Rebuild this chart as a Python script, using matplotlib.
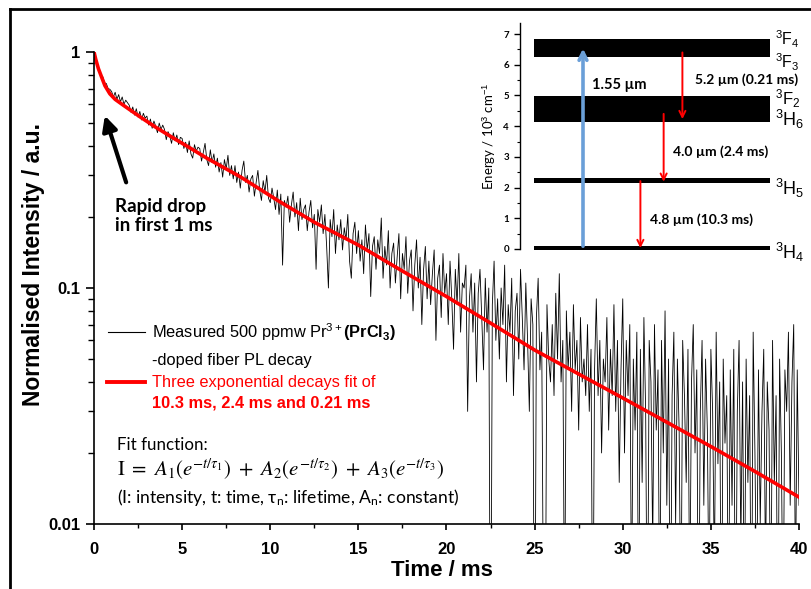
import numpy as np
import matplotlib
matplotlib.use("Agg")
import matplotlib.pyplot as plt
from matplotlib.lines import Line2D
from matplotlib.patches import FancyArrowPatch
from matplotlib.ticker import FixedLocator, NullFormatter, MultipleLocator

plt.rcParams['font.family'] = ['Liberation Sans', 'DejaVu Sans']
plt.rcParams['mathtext.fontset'] = 'custom'
plt.rcParams['mathtext.rm'] = 'Liberation Sans'
plt.rcParams['mathtext.it'] = 'Liberation Sans:italic'
plt.rcParams['mathtext.bf'] = 'Liberation Sans:bold'

W, H = 812, 589

# measured PL decay, one value every 0.1 ms
dt = 0.1
meas = [
    1.0, 0.94, 0.87, 0.845, 0.79, 0.785, 0.74, 0.735, 0.70, 0.695,
    0.68, 0.645, 0.675, 0.63, 0.66, 0.615, 0.645, 0.60, 0.625, 0.61,
    0.595, 0.555, 0.585, 0.54, 0.575, 0.53, 0.56, 0.515, 0.55, 0.525,
    0.535, 0.49, 0.52, 0.475, 0.51, 0.485, 0.455, 0.50, 0.47, 0.49,
    0.47, 0.425, 0.46, 0.44, 0.41, 0.455, 0.42, 0.445, 0.405, 0.435,
    0.43, 0.39, 0.415, 0.375, 0.42, 0.37, 0.355, 0.405, 0.38, 0.395,
    0.39, 0.345, 0.375, 0.41, 0.35, 0.33, 0.385, 0.34, 0.37, 0.325,
    0.355, 0.31, 0.34, 0.295, 0.35, 0.32, 0.365, 0.30, 0.33, 0.29,
    0.33, 0.28, 0.31, 0.265, 0.315, 0.345, 0.28, 0.30, 0.255, 0.29,
    0.30, 0.245, 0.28, 0.315, 0.26, 0.235, 0.285, 0.255, 0.30, 0.24,
    0.23, 0.265, 0.24, 0.215, 0.26, 0.205, 0.25, 0.125, 0.235, 0.22,
    0.245, 0.19, 0.225, 0.255, 0.20, 0.23, 0.175, 0.24, 0.195, 0.215,
    0.225, 0.175, 0.21, 0.235, 0.18, 0.205, 0.12, 0.215, 0.19, 0.225,
    0.17, 0.205, 0.15, 0.10, 0.195, 0.165, 0.215, 0.14, 0.185, 0.16,
    0.195, 0.145, 0.18, 0.16, 0.205, 0.13, 0.11, 0.17, 0.19, 0.14,
    0.175, 0.13, 0.16, 0.115, 0.185, 0.145, 0.17, 0.092, 0.15, 0.165,
    0.12, 0.16, 0.14, 0.198, 0.11, 0.15, 0.125, 0.175, 0.10, 0.14,
    0.155, 0.105, 0.135, 0.17, 0.09, 0.14, 0.12, 0.165, 0.095, 0.13,
    0.145, 0.08, 0.125, 0.16, 0.10, 0.135, 0.07, 0.12, 0.15, 0.09,
    0.13, 0.085, 0.115, 0.145, 0.06, 0.11, 0.125, 0.075, 0.14, 0.095,
    0.115, 0.07, 0.13, 0.09, 0.055, 0.12, 0.085, 0.14, 0.065, 0.105,
    0.10, 0.125, 0.03, 0.09, 0.115, 0.065, 0.105, 0.04, 0.095, 0.12,
    0.075, 0.045, 0.11, 0.065, 0.10, 0.001, 0.085, 0.13, 0.06, 0.09,
    0.05, 0.10, 0.07, 0.125, 0.04, 0.085, 0.065, 0.11, 0.035, 0.08,
    0.095, 0.05, 0.12, 0.075, 0.045, 0.105, 0.06, 0.03, 0.09, 0.07,
    0.001, 0.075, 0.11, 0.045, 0.065, 0.004, 0.002, 0.085, 0.05, 0.04,
    0.07, 0.035, 0.095, 0.05, 0.115, 0.04, 0.06, 0.003, 0.08, 0.045,
    0.065, 0.03, 0.085, 0.045, 0.06, 0.025, 0.075, 0.04, 0.05, 0.035,
    0.07, 0.03, 0.055, 0.002, 0.045, 0.09, 0.035, 0.06, 0.02, 0.05,
    0.04, 0.075, 0.025, 0.055, 0.035, 0.085, 0.03, 0.06, 0.015, 0.045,
    0.09, 0.02, 0.06, 0.035, 0.07, 0.004, 0.05, 0.025, 0.065, 0.003,
    0.055, 0.015, 0.075, 0.03, 0.002, 0.06, 0.04, 0.008, 0.07, 0.025,
    0.045, 0.003, 0.06, 0.02, 0.08, 0.012, 0.05, 0.002, 0.035, 0.065,
    0.01, 0.05, 0.025, 0.003, 0.06, 0.035, 0.015, 0.055, 0.004, 0.04,
    0.07, 0.02, 0.045, 0.002, 0.03, 0.06, 0.012, 0.05, 0.025, 0.004,
    0.055, 0.03, 0.006, 0.065, 0.018, 0.04, 0.002, 0.05, 0.022, 0.035,
    0.003, 0.045, 0.012, 0.055, 0.002, 0.03, 0.06, 0.008, 0.04, 0.003,
    0.05, 0.015, 0.035, 0.002, 0.065, 0.02, 0.004, 0.045, 0.01, 0.03,
    0.055, 0.006, 0.04, 0.025, 0.003, 0.06, 0.015, 0.035, 0.002, 0.05,
    0.02, 0.003, 0.045, 0.03, 0.065, 0.012, 0.04, 0.07, 0.005, 0.045,
    0.012,
]

# three exponential fit curve
fit_t = [0, 0.1, 0.25, 0.44, 0.62, 0.9, 1.2, 1.65, 2.6, 3.5, 4.5, 5.5, 6.4, 8.3,
         10.5, 12.5, 15, 17.5, 20, 22.5, 25, 27.5, 30, 32.5, 35, 37.5, 40]
fit_y = [1.0, 0.93, 0.85, 0.78, 0.72, 0.665, 0.63, 0.596, 0.532, 0.48, 0.432, 0.39,
         0.355, 0.296, 0.233, 0.19, 0.152, 0.118, 0.092, 0.071, 0.0546, 0.0432,
         0.0342, 0.027, 0.0213, 0.0167, 0.013]

# energy level diagram (10^3 cm-1)
level_lo = [6.26, 4.13, 2.15, -0.03]
level_hi = [6.84, 4.99, 2.31, 0.10]
level_names = [r"$^3$F$_4$", r"$^3$F$_3$", r"$^3$F$_2$", r"$^3$H$_6$", r"$^3$H$_5$", r"$^3$H$_4$"]
level_name_y = [6.82, 6.08, 4.9, 4.22, 1.98, -0.12]
level_name_size = [11.5, 11.5, 12, 13, 13, 13]
pump = (0.225, 0.0, 6.62)
decays = [(0.58, 6.4, 4.23), (0.513, 4.4, 2.19), (0.43, 2.21, 0.03)]
decay_labels = ["5.2 µm (0.21 ms)", "4.0 µm (2.4 ms)", "4.8 µm (10.3 ms)"]
decay_label_pos = [(0.625, 5.5), (0.546, 3.16), (0.464, 0.94)]


def fx(px):
    return px / W


def fy(py):
    return 1 - py / H


fig = plt.figure(figsize=(W / 100, H / 100), dpi=100)

ax = fig.add_axes([fx(94), fy(524), (799 - 94) / W, (524 - 52) / H])
t = np.arange(len(meas)) * dt
ax.plot(t, meas, color='black', lw=0.6)
ax.plot(fit_t, fit_y, color='red', lw=2.6)
ax.set_yscale('log')
ax.set_xlim(0, 40)
ax.set_ylim(0.01, 1)
for s in ['top', 'right']:
    ax.spines[s].set_visible(False)
for s in ['left', 'bottom']:
    ax.spines[s].set_linewidth(1.2)
ax.xaxis.set_major_locator(MultipleLocator(5))
ax.xaxis.set_minor_locator(MultipleLocator(2.5))
ax.yaxis.set_major_locator(FixedLocator([0.01, 0.1, 1]))
ax.set_yticklabels(["0.01", "0.1", "1"])
ax.yaxis.set_minor_formatter(NullFormatter())
ax.tick_params(axis='y', which='major', direction='out', length=6, width=1.2, pad=4,
               labelsize=12)
ax.tick_params(axis='y', which='minor', direction='out', length=4, width=1.0)
ax.tick_params(axis='x', which='major', direction='out', length=4, width=1.2, pad=9,
               labelsize=12)
ax.tick_params(axis='x', which='minor', direction='out', length=3, width=1.0)
for lab in ax.get_xticklabels() + ax.get_yticklabels():
    lab.set_fontweight('bold')

fig.text(fx(442), fy(570), "Time / ms", fontsize=16, fontweight='bold', ha='center', va='center')
fig.text(fx(34), fy(265), "Normalised Intensity / a.u.", fontsize=16.5, fontweight='bold',
         rotation=90, ha='center', va='center')

# rapid drop annotation
fig.add_artist(FancyArrowPatch((fx(127), fy(185)), (fx(104), fy(113)), transform=fig.transFigure,
                               arrowstyle='-|>', mutation_scale=22, lw=3, color='black'))
fig.text(fx(115), fy(216), "Rapid drop\nin first 1 ms", family=['Lato', 'DejaVu Sans'],
         fontsize=13.5, fontweight='bold', ha='left', va='center', linespacing=1.2)

# legend
fig.add_artist(Line2D([fx(108), fx(145)], [fy(332), fy(332)], color='black', lw=0.8))
fig.text(fx(152), fy(332), r"Measured 500 ppmw Pr$^{3+}$$\mathbf{(PrCl_3)}$", fontsize=11.8,
         ha='left', va='center')
fig.text(fx(152), fy(360), "-doped fiber PL decay", fontsize=11.8, ha='left', va='center')
fig.add_artist(Line2D([fx(107), fx(145)], [fy(382), fy(382)], color='red', lw=2.8))
fig.text(fx(152), fy(382), "Three exponential decays fit of", fontsize=11.8, color='red',
         ha='left', va='center')
fig.text(fx(152), fy(403), "10.3 ms, 2.4 ms and 0.21 ms", fontsize=11.8, color='red',
         fontweight='bold', ha='left', va='center')

# fit function
fig.text(fx(117), fy(445), "Fit function:", family=['Lato', 'DejaVu Sans'], fontsize=12.2,
         ha='left', va='center')
fig.text(fx(117), fy(469),
         r"$\mathrm{I}\ =\ A_1(e^{-t/\tau_1})\ +\ A_2(e^{-t/\tau_2})\ +\ A_3(e^{-t/\tau_3})$",
         math_fontfamily='stix', fontsize=15, ha='left', va='center')
fig.text(fx(117), fy(497), r"(I: intensity, t: time, τ$_\mathregular{n}$: lifetime, A$_\mathregular{n}$: constant)",
         family=['Lato', 'DejaVu Sans'], fontsize=12.6, ha='left', va='center')

# inset: energy level diagram
ax_in = fig.add_axes([fx(520), fy(249), 280 / W, (249 - 23) / H])
ax_in.set_facecolor('none')
ax_in.set_xlim(0, 1)
ax_in.set_ylim(0, 7.36)
for s in ['top', 'right', 'bottom']:
    ax_in.spines[s].set_visible(False)
ax_in.spines['left'].set_linewidth(1.0)
ax_in.set_xticks([])
ax_in.yaxis.set_major_locator(MultipleLocator(1))
ax_in.yaxis.set_minor_locator(MultipleLocator(0.5))
ax_in.tick_params(axis='y', which='major', direction='out', length=4, width=1.0, pad=4, labelsize=7)
ax_in.tick_params(axis='y', which='minor', direction='out', length=2.5, width=0.8)
for lab in ax_in.get_yticklabels():
    lab.set_fontweight('bold')
    lab.set_family(['Lato', 'DejaVu Sans'])
ax_in.set_ylabel(r"Energy / 10$^3$ cm$^{-1}$", family=['Lato', 'DejaVu Sans'], fontsize=9.5,
                 labelpad=4)

lo = np.array(level_lo)
hi = np.array(level_hi)
ax_in.barh((lo + hi) / 2, 0.843, height=hi - lo, left=0.05, color='black', clip_on=False)

ax_in.add_patch(FancyArrowPatch((pump[0], pump[1]), (pump[0], pump[2]), arrowstyle='->',
                                mutation_scale=14, lw=2.6, color='#6a9fd8', clip_on=False))
for (x, y0, y1) in decays:
    ax_in.add_patch(FancyArrowPatch((x, y0), (x, y1), arrowstyle='->', mutation_scale=11,
                                    lw=1.4, color='red', clip_on=False, shrinkA=0, shrinkB=0))
ax_in.text(0.257, 5.34, "1.55 µm", family=['Lato', 'DejaVu Sans'], fontsize=10.5,
           fontweight='bold', ha='left', va='center')
for lab, (x, y) in zip(decay_labels, decay_label_pos):
    ax_in.text(x, y, lab, family=['Lato', 'DejaVu Sans'], fontsize=10, fontweight='bold',
               ha='left', va='center', clip_on=False)
for name, y, fs in zip(level_names, level_name_y, level_name_size):
    ax_in.text(0.911, y, name, fontsize=fs, ha='left', va='center', clip_on=False)

# outer frame (top and left edges visible)
fig.add_artist(Line2D([fx(10), fx(812)], [fy(9), fy(9)], color='black', lw=2))
fig.add_artist(Line2D([fx(10), fx(10)], [fy(9), fy(589)], color='black', lw=2))

fig.savefig("out.png", dpi=100)
